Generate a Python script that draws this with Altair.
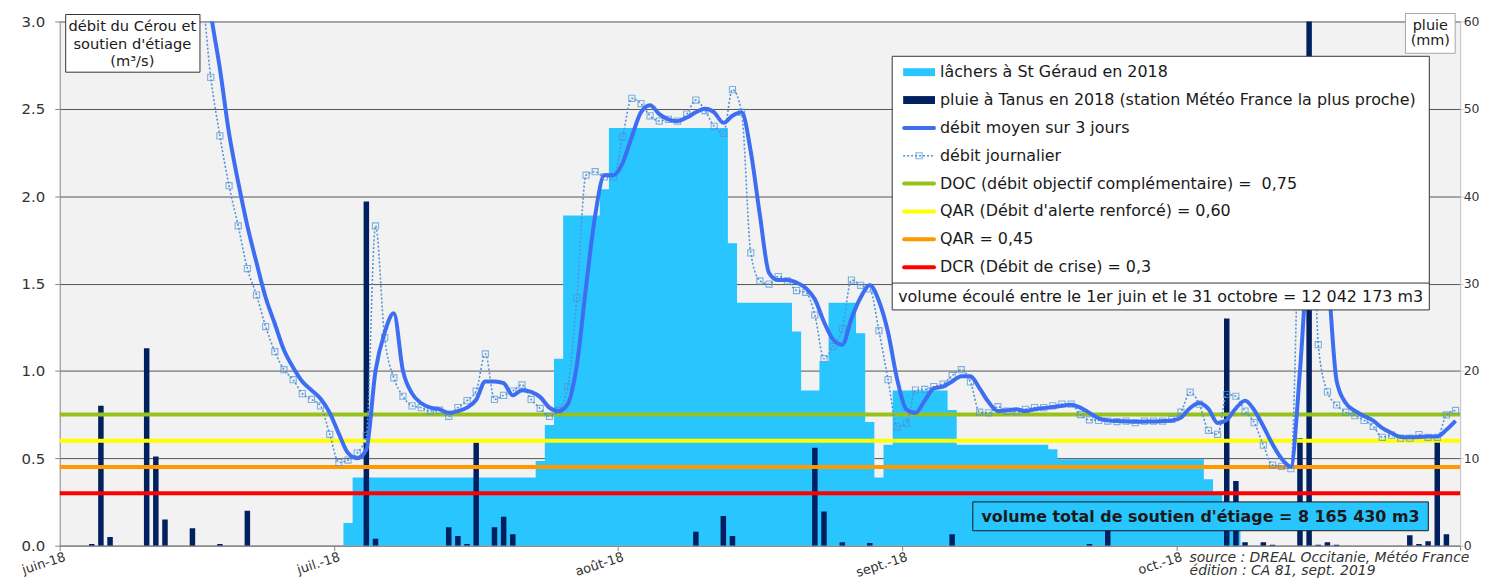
import altair as alt
import pandas as pd

FONT = "DejaVu Sans"
LIGHT = "#29C5FF"
NAVY = "#002060"
MEAN = "#3D6EF2"
DAILY = "#4F94D8"

# ---------------- data ----------------
month_labels = ["juin-18", "juil.-18", "août-18", "sept.-18", "oct.-18", ""]
month_starts = [0, 30, 61, 92, 122, 153]

# daily flow (m3/s), 1 June -> 31 Oct 2018
debit_journalier = [
    6.8, 6.1, 5.6, 5.4, 5.9, 6.3, 5.7, 5.1, 4.7, 5.6,
    6.2, 5.3, 4.5, 3.9, 3.3, 3.17, 2.68, 2.345, 2.06, 1.83,
    1.586, 1.434, 1.254, 1.11, 1.007, 0.95, 0.87, 0.837, 0.80, 0.637,
    0.476, 0.49, 0.53, 0.63, 1.83, 1.19, 0.96, 0.855, 0.80, 0.79,
    0.77, 0.775, 0.74, 0.79, 0.83, 0.885, 1.097, 0.837, 0.86, 0.885,
    0.92, 0.837, 0.785, 0.74, 0.775, 0.91, 1.42, 2.12, 2.14, 2.11,
    2.11, 2.34, 2.56, 2.53, 2.46, 2.43, 2.44, 2.43, 2.47, 2.55,
    2.49, 2.40, 2.36, 2.61, 2.48, 1.675, 1.515, 1.497, 1.54, 1.515,
    1.46, 1.45, 1.32, 1.07, 1.14, 1.24, 1.52, 1.49, 1.47, 1.23,
    0.95, 0.68, 0.70, 0.89, 0.894, 0.91, 0.925, 0.973, 1.007, 0.937,
    0.764, 0.76, 0.795, 0.77, 0.767, 0.78, 0.79, 0.79, 0.80, 0.81,
    0.81, 0.75, 0.72, 0.717, 0.713, 0.71, 0.713, 0.704, 0.713, 0.713,
    0.713, 0.723, 0.764, 0.878, 0.81, 0.66, 0.637, 0.865, 0.855, 0.77,
    0.704, 0.575, 0.461, 0.454, 0.44, 2.1, 2.75, 1.15, 0.88, 0.805,
    0.764, 0.744, 0.717, 0.683, 0.62, 0.632, 0.615, 0.615, 0.636, 0.62,
    0.62, 0.748, 0.774,
]

# 3-day mean flow (m3/s)
debit_moyen = [
    7.0, 6.6, 6.2, 5.8, 5.6, 5.9, 6.0, 5.7, 5.2, 5.1,
    5.5, 5.7, 5.3, 4.6, 3.9, 3.46, 3.05, 2.73, 2.36, 2.08,
    1.83, 1.62, 1.42, 1.27, 1.12, 1.02, 0.94, 0.89, 0.84, 0.76,
    0.64, 0.53, 0.50, 0.55, 1.00, 1.22, 1.33, 1.00, 0.87, 0.815,
    0.79, 0.78, 0.76, 0.77, 0.79, 0.835, 0.94, 0.94, 0.93, 0.86,
    0.89, 0.88, 0.85, 0.79, 0.77, 0.81, 1.035, 1.48, 1.89, 2.12,
    2.12, 2.19, 2.34, 2.48, 2.52, 2.47, 2.44, 2.43, 2.45, 2.48,
    2.50, 2.48, 2.42, 2.46, 2.48, 2.255, 1.89, 1.56, 1.52, 1.52,
    1.505, 1.475, 1.41, 1.28, 1.18, 1.15, 1.30, 1.42, 1.49, 1.40,
    1.22, 0.95, 0.78, 0.76, 0.83, 0.90, 0.91, 0.94, 0.97, 0.97,
    0.90, 0.82, 0.77, 0.775, 0.78, 0.77, 0.78, 0.787, 0.793, 0.80,
    0.807, 0.79, 0.76, 0.729, 0.717, 0.713, 0.712, 0.709, 0.71, 0.71,
    0.713, 0.716, 0.733, 0.788, 0.817, 0.783, 0.702, 0.72, 0.786, 0.83,
    0.776, 0.683, 0.58, 0.497, 0.452, 1.00, 1.76, 2.00, 1.59, 0.945,
    0.816, 0.771, 0.742, 0.715, 0.673, 0.645, 0.622, 0.621, 0.622, 0.624,
    0.625, 0.663, 0.714,
]

# releases at St Géraud (m3/s)
lachers = [
    0, 0, 0, 0, 0, 0, 0, 0, 0, 0,
    0, 0, 0, 0, 0, 0, 0, 0, 0, 0,
    0, 0, 0, 0, 0, 0, 0, 0, 0, 0,
    0, 0.13, 0.39, 0.39, 0.39, 0.39, 0.39, 0.39, 0.39, 0.39,
    0.39, 0.39, 0.39, 0.39, 0.39, 0.39, 0.39, 0.39, 0.39, 0.39,
    0.39, 0.39, 0.485, 0.69, 1.07, 1.89, 1.89, 1.89, 1.89, 2.04,
    2.39, 2.39, 2.39, 2.39, 2.39, 2.39, 2.39, 2.39, 2.39, 2.39,
    2.39, 2.39, 2.39, 1.73, 1.39, 1.39, 1.39, 1.39, 1.39, 1.39,
    1.225, 0.888, 0.888, 1.055, 1.39, 1.39, 1.39, 1.216, 0.707, 0.39,
    0.577, 0.888, 0.888, 0.888, 0.888, 0.888, 0.888, 0.776, 0.577, 0.577,
    0.577, 0.577, 0.577, 0.577, 0.577, 0.577, 0.577, 0.577, 0.552, 0.495,
    0.495, 0.495, 0.495, 0.495, 0.495, 0.495, 0.495, 0.495, 0.495, 0.495,
    0.495, 0.495, 0.495, 0.495, 0.495, 0.38, 0.29, 0.25, 0.2, 0,
    0, 0, 0, 0, 0, 0, 0, 0, 0, 0,
    0, 0, 0, 0, 0, 0, 0, 0, 0, 0,
    0, 0, 0,
]

# rain at Tanus (mm): day index (0 = 1 June) and amount
rain_day = [3, 4, 5, 9, 10, 11, 14, 17, 20, 33, 34, 42, 43, 44, 45, 47, 48, 49,
            69, 72, 73, 82, 83, 85, 88, 97, 112, 114, 127, 128, 129, 131, 132,
            135, 136, 137, 138, 139, 147, 148, 149, 150, 151]
rain_mm = [0.2, 16.0, 1.0, 22.6, 10.2, 3.0, 2.0, 0.2, 4.0, 39.4, 0.8, 2.1, 1.1, 0.2,
           11.8, 2.1, 3.3, 1.3, 1.6, 3.4, 1.1, 11.2, 3.9, 0.4, 0.3, 1.3, 0.2, 3.0,
           26.0, 7.4, 0.4, 0.4, 0.1, 12.3, 62.0, 0.1, 0.4, 0.1, 1.2, 0.2, 0.5, 12.2, 1.3]

ref_values = [0.75, 0.60, 0.45, 0.30]
ref_colors = ["#97C21C", "#FFFF00", "#FF9900", "#FF0000"]

legend_labels = [
    "lâchers à St Géraud en 2018",
    "pluie à Tanus en 2018 (station Météo France la plus proche)",
    "débit moyen sur 3 jours",
    "débit journalier",
    "DOC (débit objectif complémentaire) =\u00a0 0,75",
    "QAR (Débit d'alerte renforcé) = 0,60",
    "QAR = 0,45",
    "DCR (Débit de crise) = 0,3",
]
volume_ecoule = "volume écoulé entre le 1er juin et le 31 octobre = 12 042 173 m3"
volume_soutien = "volume total de soutien d'étiage = 8 165 430 m3"
source_lines = ["source : DREAL Occitanie, Météo France", "édition : CA 81, sept. 2019"]
left_title = ["débit du Cérou et", "soutien d'étiage", "(m³/s)"]
right_title = ["pluie", "(mm)"]

# ---------------- tables ----------------
n = len(debit_journalier)
days = list(range(n))
flow_df = pd.DataFrame({
    "xc": [d + 0.5 for d in days],
    "jour": debit_journalier,
    "moy": debit_moyen,
})
lach_df = pd.DataFrame({
    "x": days + [n],
    "lach": lachers + [lachers[-1]],
})
rain_df = pd.DataFrame({
    "r0": [d + 0.2 for d in rain_day],
    "r1": [d + 0.8 for d in rain_day],
    "mm": rain_mm,
    "z": [0.0 for _ in rain_day],
})
ref_df = pd.DataFrame({"level": ref_values, "col": ref_colors})

# ---------------- scales / axes ----------------
xscale = alt.Scale(domain=[0, n], nice=False, zero=False)
yscale = alt.Scale(domain=[0, 3], nice=False, zero=True)
rscale = alt.Scale(domain=[0, 60], nice=False, zero=True)

label_expr = " : ".join(
    f"datum.value == {s} ? '{l}'" for s, l in zip(month_starts, month_labels)
) + " : ''"

xaxis = alt.Axis(
    orient="bottom", values=month_starts, labelExpr=label_expr, labelAngle=342,
    labelAlign="right", labelBaseline="top", labelPadding=0, labelOffset=3,
    labelFlush=False, labelOverlap=False, labelFontSize=13, labelFont=FONT,
    labelColor="#333333", tickSize=5, tickColor="#868686", domainColor="#868686",
    grid=False, title=None,
)
yaxis = alt.Axis(
    orient="left", values=[0, 0.5, 1, 1.5, 2, 2.5, 3], format=".1f", grid=True,
    gridColor="#555555", gridWidth=1, domainColor="#868686", tickColor="#868686",
    tickSize=5, labelPadding=10, labelFontSize=15, labelFont=FONT,
    labelColor="#333333", labelFlush=False, title=None,
)
raxis = alt.Axis(
    orient="right", values=[0, 10, 20, 30, 40, 50, 60], grid=False,
    domainColor="#BFBFBF", tickColor="#BFBFBF", tickSize=3, labelPadding=0,
    labelFontSize=12.5, labelFont=FONT, labelColor="#333333", labelFlush=False,
    title=None,
)


def X(field):
    return alt.X(field, scale=xscale, axis=xaxis)


# ---------------- data layers ----------------
lach = alt.Chart(lach_df).mark_area(color=LIGHT, interpolate="step-after", clip=True).encode(
    x=X("x:Q"),
    y=alt.Y("lach:Q", scale=yscale, axis=yaxis),
)
rain = alt.Chart(rain_df).mark_rect(color=NAVY, clip=True).encode(
    x=X("r0:Q"),
    x2="r1:Q",
    y=alt.Y("mm:Q", scale=rscale, axis=raxis),
    y2="z:Q",
)
refs = alt.Chart(ref_df).mark_rule(strokeWidth=4).encode(
    y=alt.Y("level:Q", scale=yscale, axis=None),
    color=alt.Color("col:N", scale=None),
)
daily_line = alt.Chart(flow_df).mark_line(
    color=DAILY, strokeWidth=1.6, strokeDash=[2, 2], interpolate="monotone", clip=True
).encode(
    x=X("xc:Q"),
    y=alt.Y("jour:Q", scale=yscale, axis=None),
)
daily_pts = alt.Chart(flow_df).mark_point(
    shape="square", size=38, filled=False, strokeWidth=1.1, color=DAILY, clip=True
).encode(
    x=X("xc:Q"),
    y=alt.Y("jour:Q", scale=yscale, axis=None),
)
mean_line = alt.Chart(flow_df).mark_line(
    color=MEAN, strokeWidth=4, interpolate="monotone", clip=True
).encode(
    x=X("xc:Q"),
    y=alt.Y("moy:Q", scale=yscale, axis=None),
)

# ---------------- annotations (pixel positions inside the plot) ----------------
one = pd.DataFrame({"k": [0]})


def box(x1, x2, y1, y2, fill, stroke):
    return alt.Chart(one).mark_rect(fill=fill, stroke=stroke, strokeWidth=1).encode(
        x=alt.value(x1), x2=alt.value(x2), y=alt.value(y1), y2=alt.value(y2)
    )


def texts(lines, x, y0, dy, size, align="center", weight="normal", style="normal", color="#1a1a1a"):
    df = pd.DataFrame({"t": lines, "py": [y0 + dy * i for i in range(len(lines))]})
    return alt.Chart(df).mark_text(
        font=FONT, fontSize=size, align=align, baseline="middle",
        fontWeight=weight, fontStyle=style, color=color,
    ).encode(x=alt.value(x), y=alt.Y("py:Q", scale=None), text="t:N")


legend_kind = ["rect", "rect", "line", "dot", "line", "line", "line", "line"]
legend_col = [LIGHT, NAVY, MEAN, DAILY] + ref_colors
leg_df = pd.DataFrame({
    "label": legend_labels,
    "kind": legend_kind,
    "col": legend_col,
    "py": [51 + 28 * i for i in range(len(legend_labels))],
})
leg_df["y0"] = leg_df["py"] - 4
leg_df["y1"] = leg_df["py"] + 4

leg_box = box(837, 1377, 35, 290, "white", "#333333")
leg_sep = alt.Chart(one).mark_rule(color="#333333", strokeWidth=1).encode(
    x=alt.value(837), x2=alt.value(1377), y=alt.value(263)
)
leg_rects = alt.Chart(leg_df[leg_df.kind == "rect"]).mark_rect().encode(
    x=alt.value(848), x2=alt.value(880),
    y=alt.Y("y0:Q", scale=None), y2="y1:Q",
    color=alt.Color("col:N", scale=None),
)
leg_lines = alt.Chart(leg_df[leg_df.kind == "line"]).mark_rule(strokeWidth=4, strokeCap="round").encode(
    x=alt.value(849), x2=alt.value(879),
    y=alt.Y("py:Q", scale=None),
    color=alt.Color("col:N", scale=None),
)
leg_dot = alt.Chart(leg_df[leg_df.kind == "dot"]).mark_rule(strokeWidth=1.6, strokeDash=[2, 2]).encode(
    x=alt.value(848), x2=alt.value(880),
    y=alt.Y("py:Q", scale=None),
    color=alt.Color("col:N", scale=None),
)
leg_dot_pt = alt.Chart(leg_df[leg_df.kind == "dot"]).mark_point(
    shape="square", size=38, filled=False, strokeWidth=1.1
).encode(
    x=alt.value(864), y=alt.Y("py:Q", scale=None), color=alt.Color("col:N", scale=None)
)
leg_text = alt.Chart(leg_df).mark_text(
    font=FONT, fontSize=16, align="left", baseline="middle", color="#1a1a1a"
).encode(x=alt.value(885), y=alt.Y("py:Q", scale=None), text="label:N")
leg_vol = texts([volume_ecoule], 843, 277, 0, 16, align="left")

lt_box = box(6, 141, -7, 51, "white", "#333333")
lt_text = texts(left_title, 73, 6, 17.5, 14.7)
rt_box = box(1353, 1403, -8, 32, "white", "#A6A6A6")
rt_text = texts(right_title, 1378, 5, 15, 14.5)

vol_box = box(918, 1376, 483, 512, LIGHT, "#1a1a1a")
vol_text = texts([volume_soutien], 1147, 498, 0, 16, weight="bold")

src_text = texts(source_lines, 1136, 539, 14, 14, align="left", style="italic", color="#333333")

chart = alt.layer(
    lach, rain, refs, daily_line, daily_pts, mean_line,
    leg_box, leg_sep, leg_rects, leg_lines, leg_dot, leg_dot_pt, leg_text, leg_vol,
    lt_box, lt_text, rt_box, rt_text, vol_box, vol_text, src_text,
).resolve_scale(y="independent").properties(
    width=1408, height=527,
    padding={"left": 52, "top": 12, "right": 27, "bottom": 33},
    autosize=alt.AutoSizeParams(type="none"),
).configure_view(fill="#F2F2F2", stroke=None)

chart.save("out.html", embed_options={"renderer": "svg", "actions": False})
